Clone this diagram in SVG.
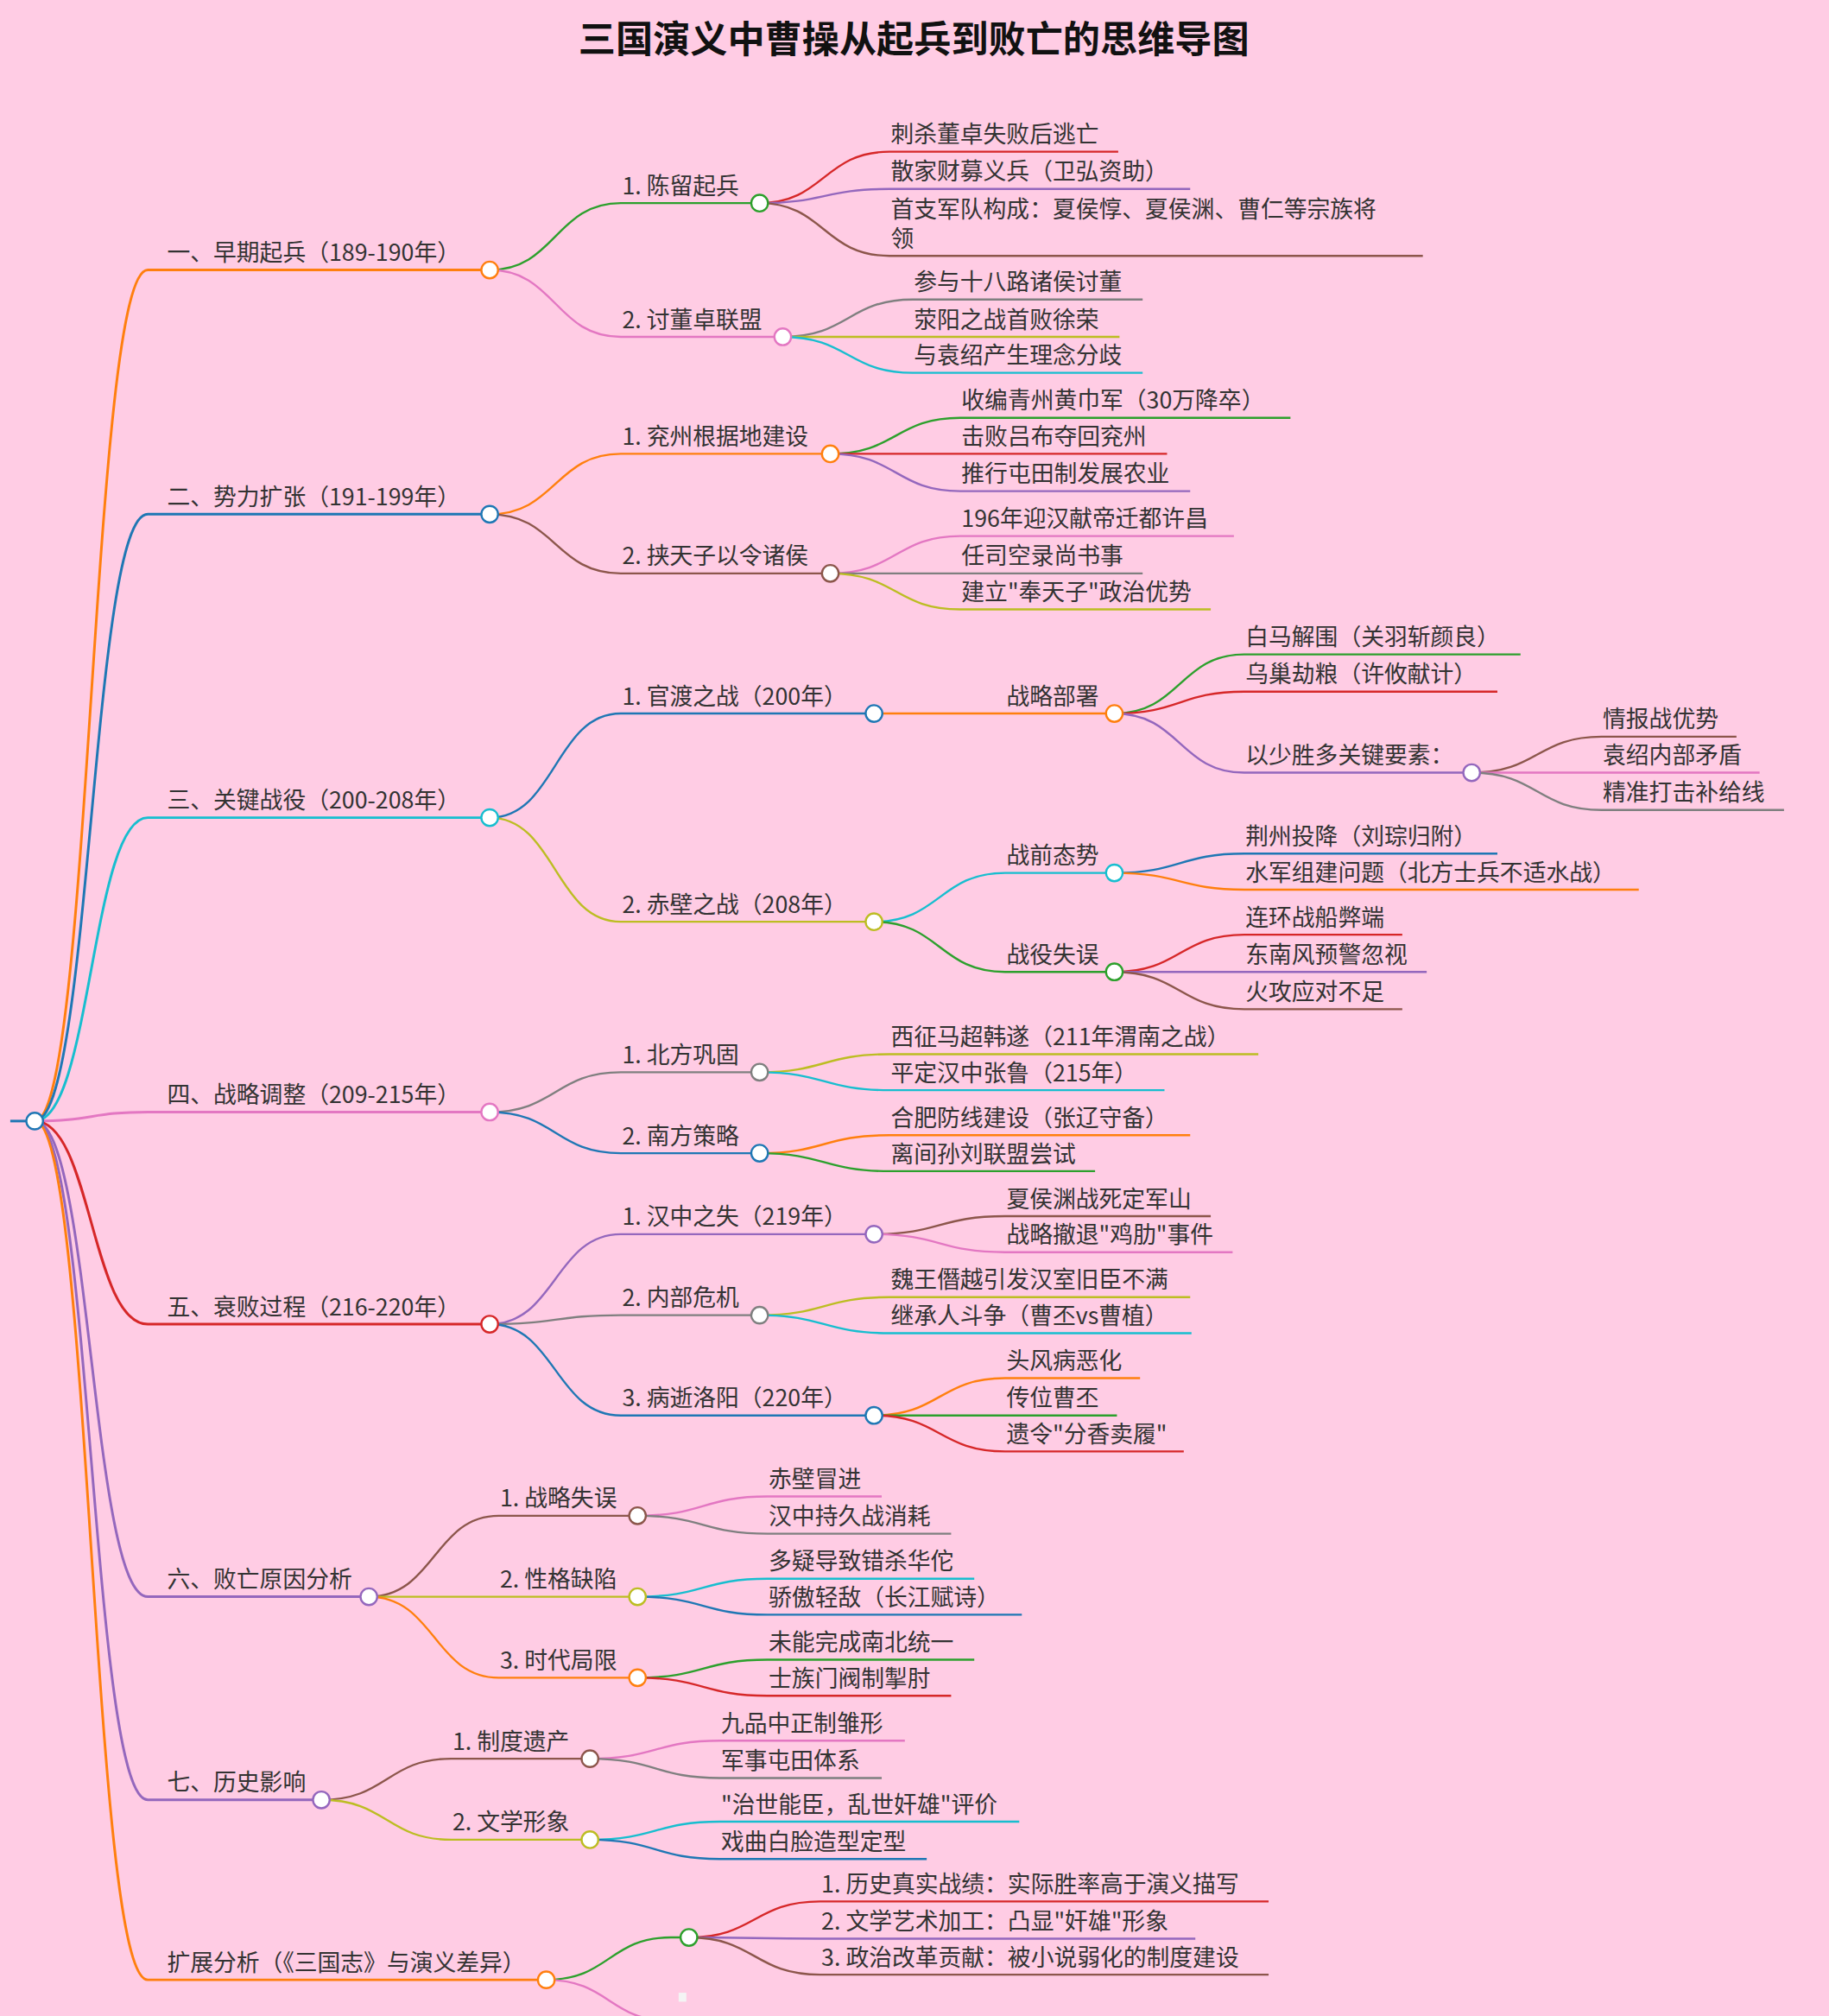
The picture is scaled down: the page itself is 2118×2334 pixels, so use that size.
<svg xmlns="http://www.w3.org/2000/svg" width="2118" height="2334" viewBox="0 0 2118 2334">
<style>
text{font-family:"Noto Sans CJK SC","Noto Sans",sans-serif;font-size:18px;fill:#333}
.t{font-size:29px;font-weight:bold;fill:#111}
path{fill:none;stroke-width:1.6}
.k1{stroke-width:2}
circle{fill:#fff;stroke-width:1.6}
.or{stroke:#ff7f0e}.bl{stroke:#1f77b4}.cy{stroke:#17becf}.pk{stroke:#e377c2}.rd{stroke:#d62728}.pu{stroke:#9467bd}.gr{stroke:#2ca02c}.br{stroke:#8c564b}.gy{stroke:#7f7f7f}.ol{stroke:#bcbd22}
</style>
<rect width="2118" height="2334" fill="#ffcce4"/>
<g transform="scale(1.4884)">
<text class="t" x="711" y="41" text-anchor="middle">三国演义中曹操从起兵到败亡的思维导图</text>
<g id="connectors">
<path class="bl k1" d="M8 872H27"/>
<path class="or k1" d="M27 872C71 872 71 210 115 210H381"/>
<path class="bl k1" d="M27 872C71 872 71 400 115 400H381"/>
<path class="cy k1" d="M27 872C71 872 71 636 115 636H381"/>
<path class="pk k1" d="M27 872C71 872 71 865 115 865H381"/>
<path class="rd k1" d="M27 872C71 872 71 1030 115 1030H381"/>
<path class="pu k1" d="M27 872C71 872 71 1242 115 1242H287"/>
<path class="pu k1" d="M27 872C71 872 71 1400 115 1400H250"/>
<path class="or k1" d="M27 872C71 872 71 1540 115 1540H425"/>
<path class="gr" d="M381 210C432 210 432 158 483 158H591"/>
<path class="pk" d="M381 210C432 210 432 262 483 262H609"/>
<path class="rd" d="M591 158C641 158 641 118 692 118H870"/>
<path class="pu" d="M591 158C641 158 641 147 692 147H926"/>
<path class="br" d="M591 158C641 158 641 199 692 199H1107"/>
<path class="gy" d="M609 262C660 262 660 233 710 233H889"/>
<path class="ol" d="M609 262C660 262 660 262 710 262H871"/>
<path class="cy" d="M609 262C660 262 660 290 710 290H889"/>
<path class="or" d="M381 400C432 400 432 353 483 353H646"/>
<path class="br" d="M381 400C432 400 432 446 483 446H646"/>
<path class="gr" d="M646 353C697 353 697 325 747 325H1004"/>
<path class="rd" d="M646 353C697 353 697 353 747 353H908"/>
<path class="pu" d="M646 353C697 353 697 382 747 382H926"/>
<path class="pk" d="M646 446C697 446 697 417 747 417H960"/>
<path class="gy" d="M646 446C697 446 697 446 747 446H889"/>
<path class="ol" d="M646 446C697 446 697 474 747 474H942"/>
<path class="bl" d="M381 636C432 636 432 555 483 555H680"/>
<path class="ol" d="M381 636C432 636 432 717 483 717H680"/>
<path class="or" d="M680 555H867"/>
<path class="gr" d="M867 555C918 555 918 509 968 509H1183"/>
<path class="rd" d="M867 555C918 555 918 538 968 538H1165"/>
<path class="pu" d="M867 555C918 555 918 601 968 601H1145"/>
<path class="br" d="M1145 601C1196 601 1196 573 1246 573H1351"/>
<path class="pk" d="M1145 601C1196 601 1196 601 1246 601H1369"/>
<path class="gy" d="M1145 601C1196 601 1196 630 1246 630H1388"/>
<path class="cy" d="M680 717C731 717 731 679 782 679H867"/>
<path class="gr" d="M680 717C731 717 731 756 782 756H867"/>
<path class="bl" d="M867 679C918 679 918 664 968 664H1165"/>
<path class="or" d="M867 679C918 679 918 692 968 692H1275"/>
<path class="rd" d="M867 756C918 756 918 727 968 727H1091"/>
<path class="pu" d="M867 756C918 756 918 756 968 756H1110"/>
<path class="br" d="M867 756C918 756 918 785 968 785H1091"/>
<path class="gy" d="M381 865C432 865 432 834 483 834H591"/>
<path class="bl" d="M381 865C432 865 432 897 483 897H591"/>
<path class="ol" d="M591 834C641 834 641 820 692 820H979"/>
<path class="cy" d="M591 834C641 834 641 848 692 848H906"/>
<path class="or" d="M591 897C641 897 641 883 692 883H926"/>
<path class="gr" d="M591 897C641 897 641 911 692 911H852"/>
<path class="pu" d="M381 1030C432 1030 432 960 483 960H680"/>
<path class="gy" d="M381 1030C432 1030 432 1023 483 1023H591"/>
<path class="bl" d="M381 1030C432 1030 432 1101 483 1101H680"/>
<path class="br" d="M680 960C731 960 731 946 782 946H942"/>
<path class="pk" d="M680 960C731 960 731 974 782 974H959"/>
<path class="ol" d="M591 1023C641 1023 641 1009 692 1009H926"/>
<path class="cy" d="M591 1023C641 1023 641 1037 692 1037H927"/>
<path class="or" d="M680 1101C731 1101 731 1072 782 1072H887"/>
<path class="gr" d="M680 1101C731 1101 731 1101 782 1101H869"/>
<path class="rd" d="M680 1101C731 1101 731 1129 782 1129H921"/>
<path class="br" d="M287 1242C338 1242 338 1179 388 1179H496"/>
<path class="ol" d="M287 1242C338 1242 338 1242 388 1242H496"/>
<path class="or" d="M287 1242C338 1242 338 1305 388 1305H496"/>
<path class="pk" d="M496 1179C547 1179 547 1164 597 1164H686"/>
<path class="gy" d="M496 1179C547 1179 547 1193 597 1193H740"/>
<path class="cy" d="M496 1242C547 1242 547 1228 597 1228H758"/>
<path class="bl" d="M496 1242C547 1242 547 1256 597 1256H795"/>
<path class="gr" d="M496 1305C547 1305 547 1291 597 1291H758"/>
<path class="rd" d="M496 1305C547 1305 547 1319 597 1319H740"/>
<path class="br" d="M250 1400C301 1400 301 1368 351 1368H459"/>
<path class="ol" d="M250 1400C301 1400 301 1431 351 1431H459"/>
<path class="pk" d="M459 1368C510 1368 510 1354 560 1354H704"/>
<path class="gy" d="M459 1368C510 1368 510 1383 560 1383H686"/>
<path class="cy" d="M459 1431C510 1431 510 1417 560 1417H793"/>
<path class="bl" d="M459 1431C510 1431 510 1446 560 1446H721"/>
<path class="gr" d="M425 1540C474 1540 474 1507 522 1507H536"/>
<path class="pk" d="M425 1540C474 1540 474 1572 522 1572H560"/>
<path class="rd" d="M536 1507C587 1507 587 1479 638 1479H987"/>
<path class="pu" d="M536 1507C587 1507 587 1508 638 1508H930"/>
<path class="br" d="M536 1507C587 1507 587 1536 638 1536H987"/>
</g>
<g id="root"><circle class="bl" cx="27" cy="872" r="6.5"/></g>
<g id="nA"><circle class="or" cx="381" cy="210" r="6.5"/><text x="130" y="203">一、早期起兵（189-190年）</text></g>
<g id="nA1"><circle class="gr" cx="591" cy="158" r="6.5"/><text x="484" y="151">1. 陈留起兵</text></g>
<g id="nA1a"><text x="693" y="111">刺杀董卓失败后逃亡</text></g>
<g id="nA1b"><text x="693" y="140">散家财募义兵（卫弘资助）</text></g>
<g id="nA1c"><text x="693" y="169">首支军队构成：夏侯惇、夏侯渊、曹仁等宗族将</text><text x="693" y="192">领</text></g>
<g id="nA2"><circle class="pk" cx="609" cy="262" r="6.5"/><text x="484" y="255">2. 讨董卓联盟</text></g>
<g id="nA2a"><text x="711" y="226">参与十八路诸侯讨董</text></g>
<g id="nA2b"><text x="711" y="255">荥阳之战首败徐荣</text></g>
<g id="nA2c"><text x="711" y="283">与袁绍产生理念分歧</text></g>
<g id="nB"><circle class="bl" cx="381" cy="400" r="6.5"/><text x="130" y="393">二、势力扩张（191-199年）</text></g>
<g id="nB1"><circle class="or" cx="646" cy="353" r="6.5"/><text x="484" y="346">1. 兖州根据地建设</text></g>
<g id="nB1a"><text x="748" y="318">收编青州黄巾军（30万降卒）</text></g>
<g id="nB1b"><text x="748" y="346">击败吕布夺回兖州</text></g>
<g id="nB1c"><text x="748" y="375">推行屯田制发展农业</text></g>
<g id="nB2"><circle class="br" cx="646" cy="446" r="6.5"/><text x="484" y="439">2. 挟天子以令诸侯</text></g>
<g id="nB2a"><text x="748" y="410">196年迎汉献帝迁都许昌</text></g>
<g id="nB2b"><text x="748" y="439">任司空录尚书事</text></g>
<g id="nB2c"><text x="748" y="467">建立"奉天子"政治优势</text></g>
<g id="nC"><circle class="cy" cx="381" cy="636" r="6.5"/><text x="130" y="629">三、关键战役（200-208年）</text></g>
<g id="nC1"><circle class="bl" cx="680" cy="555" r="6.5"/><text x="484" y="548">1. 官渡之战（200年）</text></g>
<g id="nC1a"><circle class="or" cx="867" cy="555" r="6.5"/><text x="783" y="548">战略部署</text></g>
<g id="nC1a1"><text x="969" y="502">白马解围（关羽斩颜良）</text></g>
<g id="nC1a2"><text x="969" y="531">乌巢劫粮（许攸献计）</text></g>
<g id="nC1a3"><circle class="pu" cx="1145" cy="601" r="6.5"/><text x="969" y="594">以少胜多关键要素：</text></g>
<g id="nC1a3a"><text x="1247" y="566">情报战优势</text></g>
<g id="nC1a3b"><text x="1247" y="594">袁绍内部矛盾</text></g>
<g id="nC1a3c"><text x="1247" y="623">精准打击补给线</text></g>
<g id="nC2"><circle class="ol" cx="680" cy="717" r="6.5"/><text x="484" y="710">2. 赤壁之战（208年）</text></g>
<g id="nC2a"><circle class="cy" cx="867" cy="679" r="6.5"/><text x="783" y="672">战前态势</text></g>
<g id="nC2a1"><text x="969" y="657">荆州投降（刘琮归附）</text></g>
<g id="nC2a2"><text x="969" y="685">水军组建问题（北方士兵不适水战）</text></g>
<g id="nC2b"><circle class="gr" cx="867" cy="756" r="6.5"/><text x="783" y="749">战役失误</text></g>
<g id="nC2b1"><text x="969" y="720">连环战船弊端</text></g>
<g id="nC2b2"><text x="969" y="749">东南风预警忽视</text></g>
<g id="nC2b3"><text x="969" y="778">火攻应对不足</text></g>
<g id="nD"><circle class="pk" cx="381" cy="865" r="6.5"/><text x="130" y="858">四、战略调整（209-215年）</text></g>
<g id="nD1"><circle class="gy" cx="591" cy="834" r="6.5"/><text x="484" y="827">1. 北方巩固</text></g>
<g id="nD1a"><text x="693" y="813">西征马超韩遂（211年渭南之战）</text></g>
<g id="nD1b"><text x="693" y="841">平定汉中张鲁（215年）</text></g>
<g id="nD2"><circle class="bl" cx="591" cy="897" r="6.5"/><text x="484" y="890">2. 南方策略</text></g>
<g id="nD2a"><text x="693" y="876">合肥防线建设（张辽守备）</text></g>
<g id="nD2b"><text x="693" y="904">离间孙刘联盟尝试</text></g>
<g id="nE"><circle class="rd" cx="381" cy="1030" r="6.5"/><text x="130" y="1023">五、衰败过程（216-220年）</text></g>
<g id="nE1"><circle class="pu" cx="680" cy="960" r="6.5"/><text x="484" y="953">1. 汉中之失（219年）</text></g>
<g id="nE1a"><text x="783" y="939">夏侯渊战死定军山</text></g>
<g id="nE1b"><text x="783" y="967">战略撤退"鸡肋"事件</text></g>
<g id="nE2"><circle class="gy" cx="591" cy="1023" r="6.5"/><text x="484" y="1016">2. 内部危机</text></g>
<g id="nE2a"><text x="693" y="1002">魏王僭越引发汉室旧臣不满</text></g>
<g id="nE2b"><text x="693" y="1030">继承人斗争（曹丕vs曹植）</text></g>
<g id="nE3"><circle class="bl" cx="680" cy="1101" r="6.5"/><text x="484" y="1094">3. 病逝洛阳（220年）</text></g>
<g id="nE3a"><text x="783" y="1065">头风病恶化</text></g>
<g id="nE3b"><text x="783" y="1094">传位曹丕</text></g>
<g id="nE3c"><text x="783" y="1122">遗令"分香卖履"</text></g>
<g id="nF"><circle class="pu" cx="287" cy="1242" r="6.5"/><text x="130" y="1235">六、败亡原因分析</text></g>
<g id="nF1"><circle class="br" cx="496" cy="1179" r="6.5"/><text x="389" y="1172">1. 战略失误</text></g>
<g id="nF1a"><text x="598" y="1157">赤壁冒进</text></g>
<g id="nF1b"><text x="598" y="1186">汉中持久战消耗</text></g>
<g id="nF2"><circle class="ol" cx="496" cy="1242" r="6.5"/><text x="389" y="1235">2. 性格缺陷</text></g>
<g id="nF2a"><text x="598" y="1221">多疑导致错杀华佗</text></g>
<g id="nF2b"><text x="598" y="1249">骄傲轻敌（长江赋诗）</text></g>
<g id="nF3"><circle class="or" cx="496" cy="1305" r="6.5"/><text x="389" y="1298">3. 时代局限</text></g>
<g id="nF3a"><text x="598" y="1284">未能完成南北统一</text></g>
<g id="nF3b"><text x="598" y="1312">士族门阀制掣肘</text></g>
<g id="nG"><circle class="pu" cx="250" cy="1400" r="6.5"/><text x="130" y="1393">七、历史影响</text></g>
<g id="nG1"><circle class="br" cx="459" cy="1368" r="6.5"/><text x="352" y="1361">1. 制度遗产</text></g>
<g id="nG1a"><text x="561" y="1347">九品中正制雏形</text></g>
<g id="nG1b"><text x="561" y="1376">军事屯田体系</text></g>
<g id="nG2"><circle class="ol" cx="459" cy="1431" r="6.5"/><text x="352" y="1424">2. 文学形象</text></g>
<g id="nG2a"><text x="561" y="1410">"治世能臣，乱世奸雄"评价</text></g>
<g id="nG2b"><text x="561" y="1439">戏曲白脸造型定型</text></g>
<g id="nH"><circle class="or" cx="425" cy="1540" r="6.5"/><text x="130" y="1533">扩展分析（《三国志》与演义差异）</text></g>
<g id="nH1"><circle class="gr" cx="536" cy="1507" r="6.5"/></g>
<g id="nH1a"><text x="639" y="1472">1. 历史真实战绩：实际胜率高于演义描写</text></g>
<g id="nH1b"><text x="639" y="1501">2. 文学艺术加工：凸显"奸雄"形象</text></g>
<g id="nH1c"><text x="639" y="1529">3. 政治改革贡献：被小说弱化的制度建设</text></g>
<g id="nH2"><rect x="528" y="1550" width="6" height="7" fill="#f4f4f4"/></g>
</g>
</svg>
